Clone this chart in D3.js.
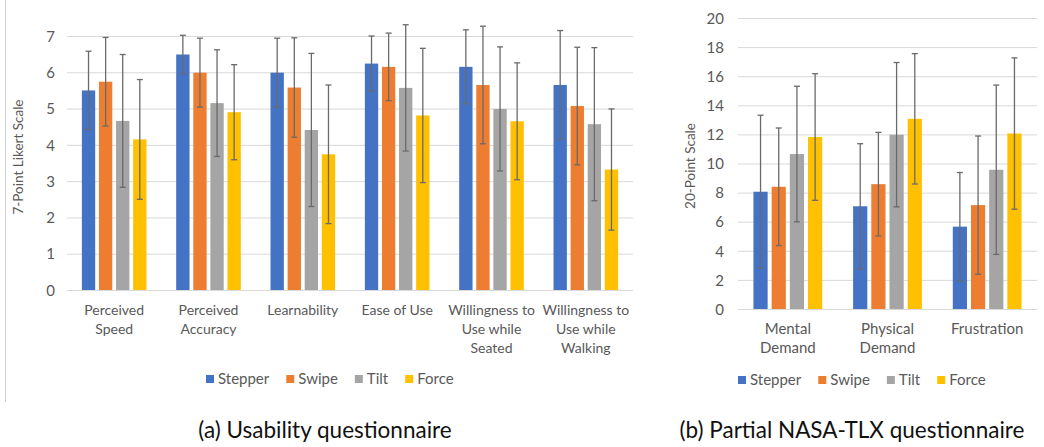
<!DOCTYPE html>
<html>
<head>
<meta charset="utf-8">
<script src="https://cdn.jsdelivr.net/npm/d3@7"></script>
<style>
  html, body { margin: 0; padding: 0; background: #ffffff; }
  svg { display: block; }
  text { font-family: Lato, "Open Sans", sans-serif; }
</style>
</head>
<body>
<svg id="chart" width="1044" height="447"></svg>
<script>
// ---------- data ----------
const seriesNames = ["Stepper", "Swipe", "Tilt", "Force"];
const seriesColors = ["#4472C4", "#ED7D31", "#A5A5A5", "#FFC000"];

// (a) Usability questionnaire (7-point Likert)
const usabilityCategories = [
  "Perceived\nSpeed", "Perceived\nAccuracy", "Learnability", "Ease of Use",
  "Willingness to\nUse while\nSeated", "Willingness to\nUse while\nWalking"
];
const usabilityMean = {
  Stepper: [5.50, 6.49, 5.99, 6.24, 6.15, 5.65],
  Swipe:   [5.74, 5.99, 5.58, 6.15, 5.65, 5.07],
  Tilt:    [4.66, 5.15, 4.41, 5.57, 4.99, 4.57],
  Force:   [4.15, 4.90, 3.74, 4.81, 4.65, 3.32]
};
const usabilitySD = {
  Stepper: [1.08, 0.53, 0.95, 0.76, 1.02, 1.50],
  Swipe:   [1.22, 0.95, 1.37, 0.93, 1.62, 1.62],
  Tilt:    [1.83, 1.47, 2.11, 1.74, 1.71, 2.11],
  Force:   [1.65, 1.31, 1.91, 1.85, 1.61, 1.67]
};
const usabilityTicks = [0, 1, 2, 3, 4, 5, 6, 7];

// (b) Partial NASA-TLX questionnaire (20-point)
const tlxCategories = ["Mental\nDemand", "Physical\nDemand", "Frustration"];
const tlxMean = {
  Stepper: [8.06, 7.06, 5.66],
  Swipe:   [8.40, 8.58, 7.14],
  Tilt:    [10.65, 11.98, 9.57],
  Force:   [11.82, 13.07, 12.06]
};
const tlxSD = {
  Stepper: [5.26, 4.30, 3.72],
  Swipe:   [4.04, 3.56, 4.75],
  Tilt:    [4.66, 4.96, 5.82],
  Force:   [4.35, 4.48, 5.20]
};
const tlxTicks = [0, 2, 4, 6, 8, 10, 12, 14, 16, 18, 20];

const captions = ["(a) Usability questionnaire", "(b) Partial NASA-TLX questionnaire"];
const yTitles = ["7-Point Likert Scale", "20-Point Scale"];

// ---------- drawing ----------
const svg = d3.select("#chart");
const labelColor = "#595959";
const gridColor = "#d9d9d9";
const errColor = "#6a6a6a";

// left frame line of panel (a)
svg.append("line")
  .attr("x1", 5.5).attr("x2", 5.5).attr("y1", 0).attr("y2", 402)
  .attr("stroke", "#d0d0d0").attr("stroke-width", 1);

function drawPanel(cfg) {
  const g = svg.append("g");
  const x0 = d3.scaleBand().domain(cfg.categories)
    .range([cfg.left, cfg.right]).paddingInner(0).paddingOuter(0);
  const y = d3.scaleLinear().domain([0, cfg.ticks[cfg.ticks.length - 1]])
    .range([cfg.bottom, cfg.top]);
  const groupFrac = cfg.groupFrac;
  const x1 = d3.scaleBand().domain(seriesNames)
    .range([0, x0.bandwidth() * groupFrac]).paddingInner(cfg.innerPad).paddingOuter(0);
  const offset = x0.bandwidth() * (1 - groupFrac) / 2;

  // gridlines
  const yAxis = d3.axisLeft(y).tickValues(cfg.ticks)
    .tickSize(-(cfg.right - cfg.left)).tickPadding(cfg.tickPad)
    .tickFormat(d3.format("d"));
  const ya = g.append("g").attr("transform", `translate(${cfg.left},0)`).call(yAxis);
  ya.select(".domain").remove();
  ya.selectAll(".tick line").attr("stroke", gridColor).attr("stroke-width", 1);
  ya.selectAll(".tick text").attr("fill", labelColor)
    .style("font-size", cfg.fontSize + "px").attr("dy", "0.35em");

  // bars
  seriesNames.forEach((s, si) => {
    const means = cfg.mean[s], sds = cfg.sd[s];
    const bars = g.append("g");
    bars.selectAll("rect").data(cfg.categories).join("rect")
      .attr("x", (c) => x0(c) + offset + x1(s))
      .attr("width", x1.bandwidth())
      .attr("y", (c, i) => y(means[i]))
      .attr("height", (c, i) => y(0) - y(means[i]))
      .attr("fill", seriesColors[si]);
    // error bars
    const eb = g.append("g").attr("stroke", errColor).attr("stroke-width", 1.3);
    cfg.categories.forEach((c, i) => {
      const cx = x0(c) + offset + x1(s) + x1.bandwidth() / 2;
      const hi = y(means[i] + sds[i]), lo = y(means[i] - sds[i]);
      eb.append("line").attr("x1", cx).attr("x2", cx).attr("y1", hi).attr("y2", lo);
      eb.append("line").attr("x1", cx - 3).attr("x2", cx + 3).attr("y1", hi).attr("y2", hi);
      eb.append("line").attr("x1", cx - 3).attr("x2", cx + 3).attr("y1", lo).attr("y2", lo);
    });
  });

  // baseline
  g.append("line").attr("x1", cfg.left).attr("x2", cfg.right)
    .attr("y1", y(0) + 0.5).attr("y2", y(0) + 0.5)
    .attr("stroke", gridColor).attr("stroke-width", 1);

  // category labels
  cfg.categories.forEach((c) => {
    const lines = c.split("\n");
    const t = g.append("text")
      .attr("text-anchor", "middle").attr("fill", labelColor)
      .style("font-size", cfg.catFontSize + "px");
    lines.forEach((ln, li) => {
      t.append("tspan").attr("x", x0(c) + x0.bandwidth() / 2)
        .attr("y", y(0) + 20 + li * 19).attr("dy", "0.35em").text(ln);
    });
  });

  // y axis title
  g.append("text")
    .attr("transform", `translate(${cfg.titleX},${cfg.titleY}) rotate(-90)`)
    .attr("text-anchor", "middle").attr("dy", "0.35em")
    .attr("fill", labelColor).style("font-size", "13.5px")
    .text(cfg.yTitle);

  // legend
  const lg = g.append("g");
  let lx = cfg.legendX;
  seriesNames.forEach((s, si) => {
    lg.append("rect").attr("x", lx).attr("y", cfg.legendY - 4)
      .attr("width", 8).attr("height", 8).attr("fill", seriesColors[si]);
    const t = lg.append("text").attr("x", lx + 12).attr("y", cfg.legendY)
      .attr("dy", "0.35em").attr("fill", labelColor)
      .style("font-size", cfg.fontSize + "px").text(s);
    lx += 12 + t.node().getComputedTextLength() + 17;
  });

  // caption
  g.append("text").attr("x", cfg.captionX).attr("y", 430)
    .attr("text-anchor", "middle").attr("dy", "0.35em")
    .attr("fill", "#111").style("font-size", "22.5px").text(cfg.caption);
}

drawPanel({
  categories: usabilityCategories, mean: usabilityMean, sd: usabilitySD,
  ticks: usabilityTicks, left: 67, right: 633, top: 36, bottom: 290,
  groupFrac: 0.685, innerPad: 0.22, tickPad: 12, fontSize: 15, catFontSize: 14,
  titleX: 18, titleY: 157, yTitle: yTitles[0],
  legendX: 206, legendY: 379, captionX: 325, caption: captions[0]
});

drawPanel({
  categories: tlxCategories, mean: tlxMean, sd: tlxSD,
  ticks: tlxTicks, left: 738, right: 1037, top: 18, bottom: 309,
  groupFrac: 0.69, innerPad: 0.22, tickPad: 14, fontSize: 15, catFontSize: 15,
  titleX: 690, titleY: 166, yTitle: yTitles[1],
  legendX: 738, legendY: 380, captionX: 852, caption: captions[1]
});
</script>
</body>
</html>
